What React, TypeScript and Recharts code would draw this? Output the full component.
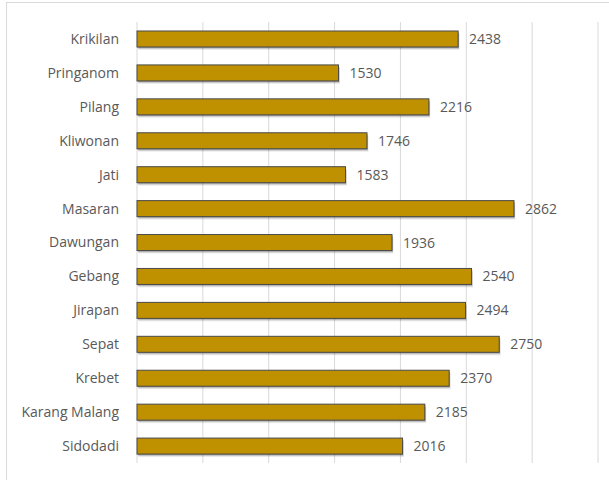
import { BarChart, Bar, XAxis, YAxis, CartesianGrid, LabelList } from 'recharts';

const villages = [
  'Krikilan', 'Pringanom', 'Pilang', 'Kliwonan', 'Jati', 'Masaran', 'Dawungan',
  'Gebang', 'Jirapan', 'Sepat', 'Krebet', 'Karang Malang', 'Sidodadi',
];
const counts = [2438, 1530, 2216, 1746, 1583, 2862, 1936, 2540, 2494, 2750, 2370, 2185, 2016];
const xTicks = [0, 500, 1000, 1500, 2000, 2500, 3000, 3500];

const data = villages.map((name, i) => ({ name, value: counts[i] }));

const FONT = '"Open Sans", sans-serif';

// bar with a thin dark outline and a soft shadow underneath, like the office chart
const ShadowBar = (props: any) => {
  const x = Number(props.x);
  const y = Number(props.y);
  const w = Number(props.width);
  const h = Number(props.height);
  if (!(w > 0) || !(h > 0)) return <g />;
  return (
    <g>
      <rect x={x + 1.5} y={y + 3} width={w} height={h} fill="#000" opacity={0.08} />
      <rect x={x + 1} y={y + 2} width={w} height={h} fill="#000" opacity={0.15} />
      <rect x={x + 0.5} y={y + 1} width={w} height={h} fill="#000" opacity={0.2} />
      <rect x={x} y={y} width={w} height={h} fill="#BF9000" stroke="#4A4A4A" strokeWidth={1} />
    </g>
  );
};

export default function App() {
  return (
    <div style={{ position: 'absolute', left: 0, top: 0, width: 609, height: 480, background: '#fff', overflow: 'hidden' }}>
      <div
        style={{
          position: 'absolute',
          left: 6,
          top: 2,
          width: 640,
          height: 520,
          border: '1px solid #D9D9D9',
        }}
      />
      <div style={{ position: 'absolute', left: 0, top: 0 }}>
        <BarChart
          width={609}
          height={480}
          data={data}
          layout="vertical"
          margin={{ top: 22, right: 11, bottom: 17, left: 0 }}
          barSize={16}
        >
          <CartesianGrid horizontal={false} stroke="#D9D9D9" strokeWidth={1} />
          <XAxis type="number" domain={[0, 3500]} ticks={xTicks} hide />
          <YAxis
            type="category"
            dataKey="name"
            width={137}
            axisLine={false}
            tickLine={false}
            tickMargin={12}
            interval={0}
            tick={{ fill: '#595959', fontSize: 14, fontFamily: FONT }}
          />
          <Bar dataKey="value" fill="#BF9000" shape={(p: any) => <ShadowBar {...p} />} isAnimationActive={false}>
            <LabelList
              dataKey="value"
              position="right"
              offset={11}
              fill="#595959"
              fontSize={14}
              fontFamily={FONT}
            />
          </Bar>
        </BarChart>
      </div>
    </div>
  );
}
